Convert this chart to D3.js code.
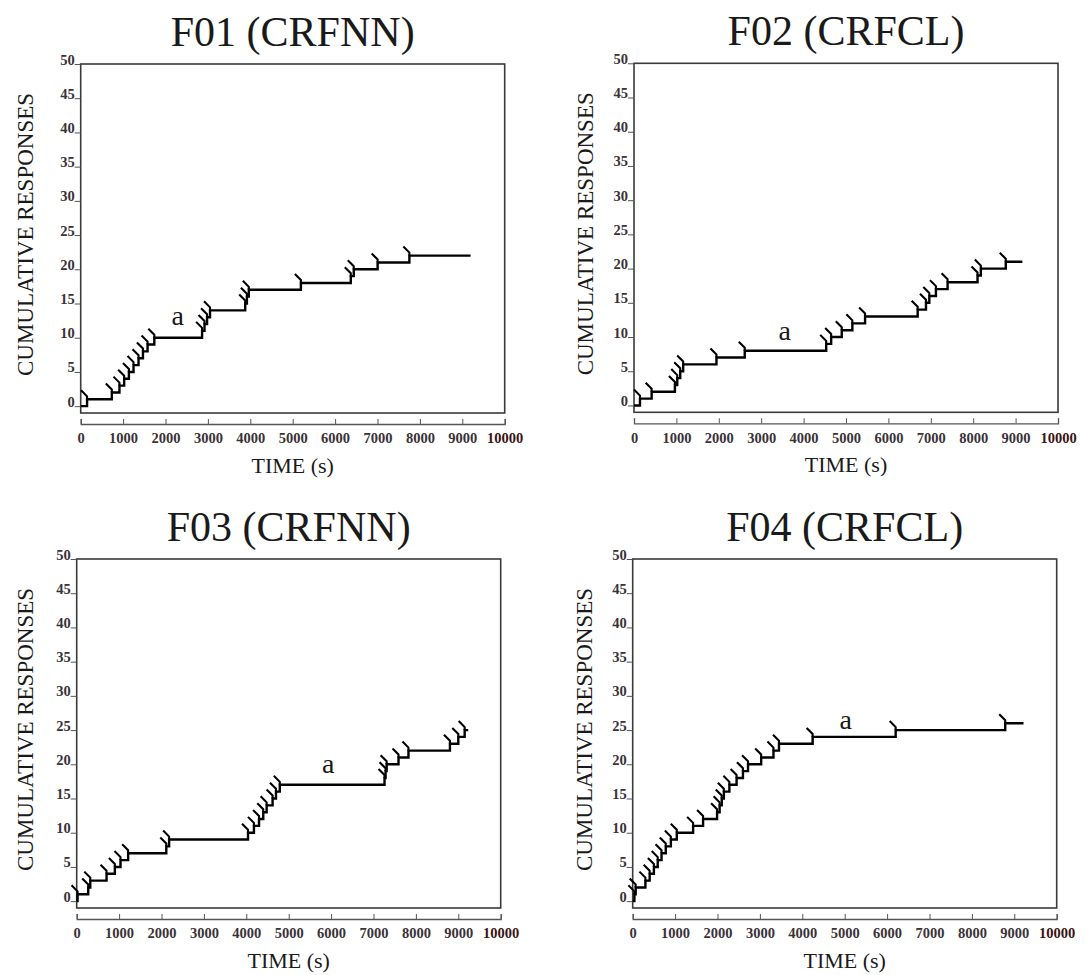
<!DOCTYPE html>
<html>
<head>
<meta charset="utf-8">
<script src="https://cdn.jsdelivr.net/npm/d3@7"></script>
<style>
    body { margin: 0; background: #fff; }
    text { font-family: "Liberation Serif", "Times New Roman", serif; fill: #1a1a1a; }
    .tick-label { font-weight: bold; font-size: 14.5px; fill: #3a3238; }
</style>
</head>
<body>
<div id="chart"></div>
<script>
//----------------------------
// Data (times in s of each response, one step up per response)
//----------------------------
var panelTitles = ["F01 (CRFNN)", "F02 (CRFCL)", "F03 (CRFNN)", "F04 (CRFCL)"];

var f01Times = [150, 734, 914, 1025, 1137, 1246, 1364, 1468, 1577, 1736,
    2863, 2920, 2980, 3050, 3880, 3920, 3965, 5193, 6370, 6440, 7003, 7752];
var f02Times = [141, 416, 965, 1020, 1090, 1160, 1945, 2612, 4533, 4650,
    4900, 5150, 5450, 6690, 6886, 6965, 7121, 7396, 8102, 8180, 8768];
var f03Times = [20, 272, 320, 704, 900, 1033, 1213, 2113, 2180, 4040,
    4180, 4300, 4400, 4480, 4620, 4700, 4790, 7260, 7285, 7310,
    7590, 7825, 8803, 9000, 9150];
var f04Times = [40, 70, 300, 400, 500, 590, 680, 780, 900, 1040,
    1425, 1660, 1990, 2050, 2100, 2150, 2280, 2450, 2600, 2720,
    3030, 3320, 3450, 4244, 6202, 8786];

var endTimes = [9195, 9160, 9234, 9217];

// "a" marks (time, level of baseline)
var noteTimes = [2287, 3553, 5931, 5027];
var noteLevels = [11.8, 9.6, 18.8, 25.2];

var xTicks = [0, 1000, 2000, 3000, 4000, 5000, 6000, 7000, 8000, 9000, 10000];
var yTicks = [0, 5, 10, 15, 20, 25, 30, 35, 40, 45, 50];

var allTimes = [f01Times, f02Times, f03Times, f04Times];

//----------------------------
// Layout
//----------------------------
var pWidth = 424, pHeight = 349;
var panelPos = [{x: 80.7, y: 64}, {x: 634, y: 63.3}, {x: 76.7, y: 559}, {x: 632.7, y: 559}];
var yTitleOffset = [-48, -41, -44, -41];

var svg = d3.select("#chart")
    .append("svg")
    .attr("width", 1085)
    .attr("height", 975);

function drawPanel(i) {
    var g = svg.append("g")
        .attr("transform", "translate(" + panelPos[i].x + "," + panelPos[i].y + ")");

    var xScale = d3.scaleLinear().domain([0, 10000]).range([0, pWidth]);
    var yScale = d3.scaleLinear().domain([-1, 50]).range([pHeight, 0]);

    // frame
    g.append("rect")
        .attr("width", pWidth)
        .attr("height", pHeight)
        .attr("fill", "none")
        .attr("stroke", "#3a3a3a")
        .attr("stroke-width", 1.6);

    // y axis (ticks left of the frame, labels sitting on the tick)
    var yAxis = g.append("g")
        .call(d3.axisLeft(yScale).tickValues(yTicks).tickSize(6).tickPadding(0));
    yAxis.select(".domain").remove();
    yAxis.selectAll("line").attr("stroke", "#555");
    yAxis.selectAll("text")
        .attr("class", "tick-label")
        .attr("dy", "0");

    // x axis below the frame, ticks pointing up
    var xAxis = g.append("g")
        .attr("transform", "translate(0," + (pHeight + 11) + ")")
        .call(d3.axisBottom(xScale).tickValues(xTicks)
            .tickSizeInner(-5).tickSizeOuter(-5).tickPadding(9)
            .tickFormat(d3.format("d")));
    xAxis.select(".domain").attr("stroke", "#555").attr("stroke-width", 1.3);
    xAxis.selectAll("line").attr("stroke", "#555");
    xAxis.selectAll("text")
        .attr("class", "tick-label")
        .style("fill", d => d === 10000 ? "#3a1414" : null);

    // cumulative record
    var times = allTimes[i];
    var pts = [[0, 0]];
    times.forEach(function (t, k) {
        pts.push([t, k]);
        pts.push([t, k + 1]);
    });
    pts.push([endTimes[i], times.length]);

    var line = d3.line()
        .x(d => xScale(d[0]))
        .y(d => yScale(d[1]));

    g.append("path")
        .datum(pts)
        .attr("fill", "none")
        .attr("stroke", "#000")
        .attr("stroke-width", 2.4)
        .attr("stroke-linejoin", "miter")
        .attr("d", line);

    // pips on each response
    g.selectAll(".pip")
        .data(times)
        .enter().append("path")
        .attr("class", "pip")
        .attr("fill", "none")
        .attr("stroke", "#000")
        .attr("stroke-width", 2.1)
        .attr("d", function (t, k) {
            var px = xScale(t), py = yScale(k + 1);
            return "M" + px + "," + py + "L" + px + "," + (py - 3) + "L" + (px - 6) + "," + (py - 9);
        });

    // annotation
    g.append("text")
        .attr("x", xScale(noteTimes[i]))
        .attr("y", yScale(noteLevels[i]))
        .attr("text-anchor", "middle")
        .style("font-size", "28px")
        .text("a");

    // titles
    g.append("text")
        .attr("x", pWidth / 2)
        .attr("y", -18)
        .attr("text-anchor", "middle")
        .style("font-size", "42px")
        .text(panelTitles[i]);

    g.append("text")
        .attr("x", pWidth / 2)
        .attr("y", pHeight + 60)
        .attr("text-anchor", "middle")
        .style("font-size", "22px")
        .text("TIME (s)");

    g.append("text")
        .attr("transform", "translate(" + yTitleOffset[i] + "," + (pHeight / 2 - 4) + ") rotate(-90)")
        .attr("text-anchor", "middle")
        .style("font-size", "23px")
        .text("CUMULATIVE RESPONSES");
}

for (var i = 0; i < 4; i++) {
    drawPanel(i);
}
</script>
</body>
</html>
